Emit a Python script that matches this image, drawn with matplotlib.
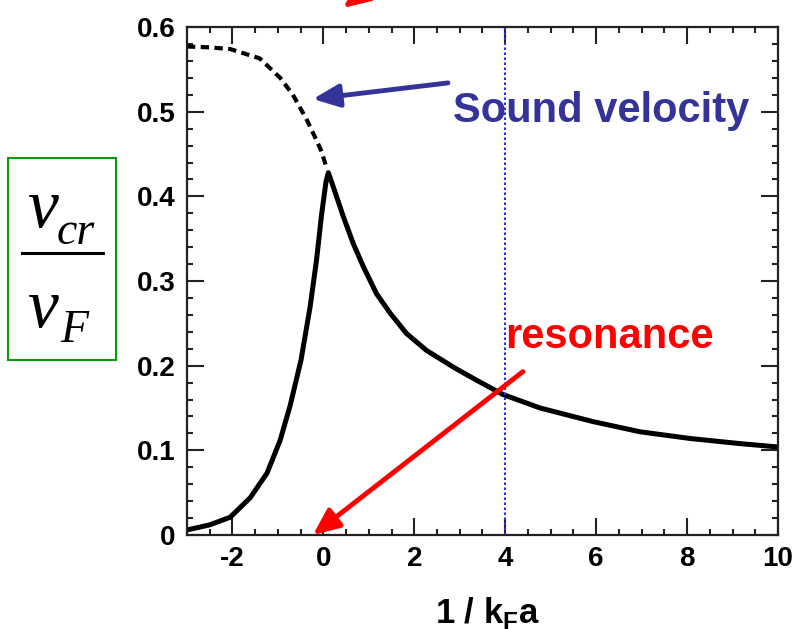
import matplotlib
matplotlib.use("Agg")
import matplotlib.pyplot as plt
from matplotlib.lines import Line2D
from matplotlib.patches import Rectangle
from matplotlib.ticker import MultipleLocator, FixedLocator, FuncFormatter

plt.rcParams['font.family'] = ['Liberation Sans', 'DejaVu Sans']
plt.rcParams['font.weight'] = 'bold'
plt.rcParams['mathtext.fontset'] = 'custom'
plt.rcParams['mathtext.bf'] = 'Liberation Sans:bold'

# dashed branch: sound velocity (BEC side)
sound_x = [-3, -2.5, -2.05, -1.4, -0.95, -0.67, -0.36, -0.14, -0.04, 0.08]
sound_y = [0.577, 0.576, 0.574, 0.563, 0.540, 0.520, 0.490, 0.465, 0.453, 0.432]

# solid curve: critical velocity
vcr_x = [-3, -2.5, -2.05, -1.61, -1.24, -0.95, -0.73, -0.49, -0.29, -0.15,
         -0.04, 0.06, 0.11, 0.22, 0.44, 0.66, 0.88, 1.17, 1.47, 1.83, 2.27,
         2.6, 2.9, 3.4, 3.95, 4.77, 5.93, 6.96, 8.07, 9.16, 10]
vcr_y = [0.006, 0.012, 0.021, 0.044, 0.073, 0.112, 0.153, 0.207, 0.270, 0.325,
         0.378, 0.418, 0.428, 0.411, 0.376, 0.344, 0.317, 0.285, 0.262, 0.238, 0.218,
         0.207, 0.197, 0.182, 0.166, 0.150, 0.134, 0.122, 0.114, 0.108, 0.104]

resonance_x = 4
x_ticks = [-2, 0, 2, 4, 6, 8, 10]
y_ticks = [0, 0.1, 0.2, 0.3, 0.4, 0.5, 0.6]

fig = plt.figure(figsize=(7.98, 6.29), dpi=100)
ax = fig.add_axes([0.2343, 0.1494, 0.7406, 0.8076])

ax.plot(vcr_x, vcr_y, color='black', lw=3.6, solid_joinstyle='round')
ax.plot(sound_x, sound_y, color='black', lw=3.0, linestyle=(0, (2, 1.3)))
ax.axvline(resonance_x, color='#2a2aff', lw=1.5, linestyle=(0, (1.2, 1.2)))

ax.set_xlim(-3, 10)
ax.set_ylim(0, 0.6)
ax.xaxis.set_major_locator(FixedLocator(x_ticks))
ax.xaxis.set_minor_locator(MultipleLocator(0.5))
ax.yaxis.set_major_locator(FixedLocator(y_ticks))
ax.yaxis.set_minor_locator(MultipleLocator(0.02))
ax.yaxis.set_major_formatter(FuncFormatter(lambda v, p: '0' if v == 0 else '%.1f' % v))
ax.xaxis.set_major_formatter(FuncFormatter(lambda v, p: '%d' % v))

ax.tick_params(which='both', direction='in', top=True, right=True, width=1.5, color='#222222')
ax.tick_params(which='major', length=12, labelsize=20, pad=8)
ax.tick_params(which='minor', length=4.5)
for s in ax.spines.values():
    s.set_linewidth(1.6)
    s.set_color('#222222')

ax.set_xlabel(r'1 / k$_\mathbf{F}$a', fontsize=25, fontweight='bold')
ax.xaxis.set_label_coords(0.508, -0.118)

# annotations
ax.annotate('', xy=(-0.23, 0.515), xytext=(2.74, 0.534),
            arrowprops=dict(arrowstyle='-|>,head_length=0.8,head_width=0.35',
                            color='#333399', lw=3.5, mutation_scale=20, shrinkA=0, shrinkB=0))
ax.text(2.85, 0.488, 'Sound velocity', color='#333399', fontsize=30,
        fontweight='bold', ha='left', va='baseline')

ax.annotate('', xy=(-0.23, 0.0), xytext=(4.39, 0.193), annotation_clip=False,
            arrowprops=dict(arrowstyle='-|>,head_length=0.8,head_width=0.35',
                            color='red', lw=3.5, mutation_scale=20, shrinkA=0, shrinkB=0))
ax.text(4.0, 0.221, 'resonance', color='red', fontsize=30,
        fontweight='bold', ha='left', va='baseline')

# red arrow coming in from above the picture
ax.annotate('', xy=(343, 621), xycoords='figure pixels', xytext=(410, 672),
            textcoords='figure pixels', annotation_clip=False,
            arrowprops=dict(arrowstyle='-|>,head_length=0.8,head_width=0.35',
                            color='red', lw=3.5, mutation_scale=20, shrinkA=0, shrinkB=0))

# y label: v_cr / v_F inside a green box
fig.add_artist(Rectangle((8 / 798, 1 - 360 / 629), 108 / 798, 202 / 629,
                         transform=fig.transFigure, fill=False,
                         edgecolor='#0a9a0a', lw=1.5))
fig.add_artist(Line2D([22 / 798, 103 / 798], [1 - 253 / 629, 1 - 253 / 629],
                      transform=fig.transFigure, color='black', lw=2.2))
serif = dict(family='Liberation Serif', style='italic', weight='normal',
             ha='left', va='baseline')
fig.text(27 / 798, 1 - 227 / 629, 'v', fontsize=50, **serif)
fig.text(57 / 798, 1 - 244 / 629, 'cr', fontsize=33, **serif)
fig.text(27 / 798, 1 - 327 / 629, 'v', fontsize=50, **serif)
fig.text(60 / 798, 1 - 342 / 629, 'F', fontsize=33, **serif)

plt.savefig('out.png', dpi=100)
